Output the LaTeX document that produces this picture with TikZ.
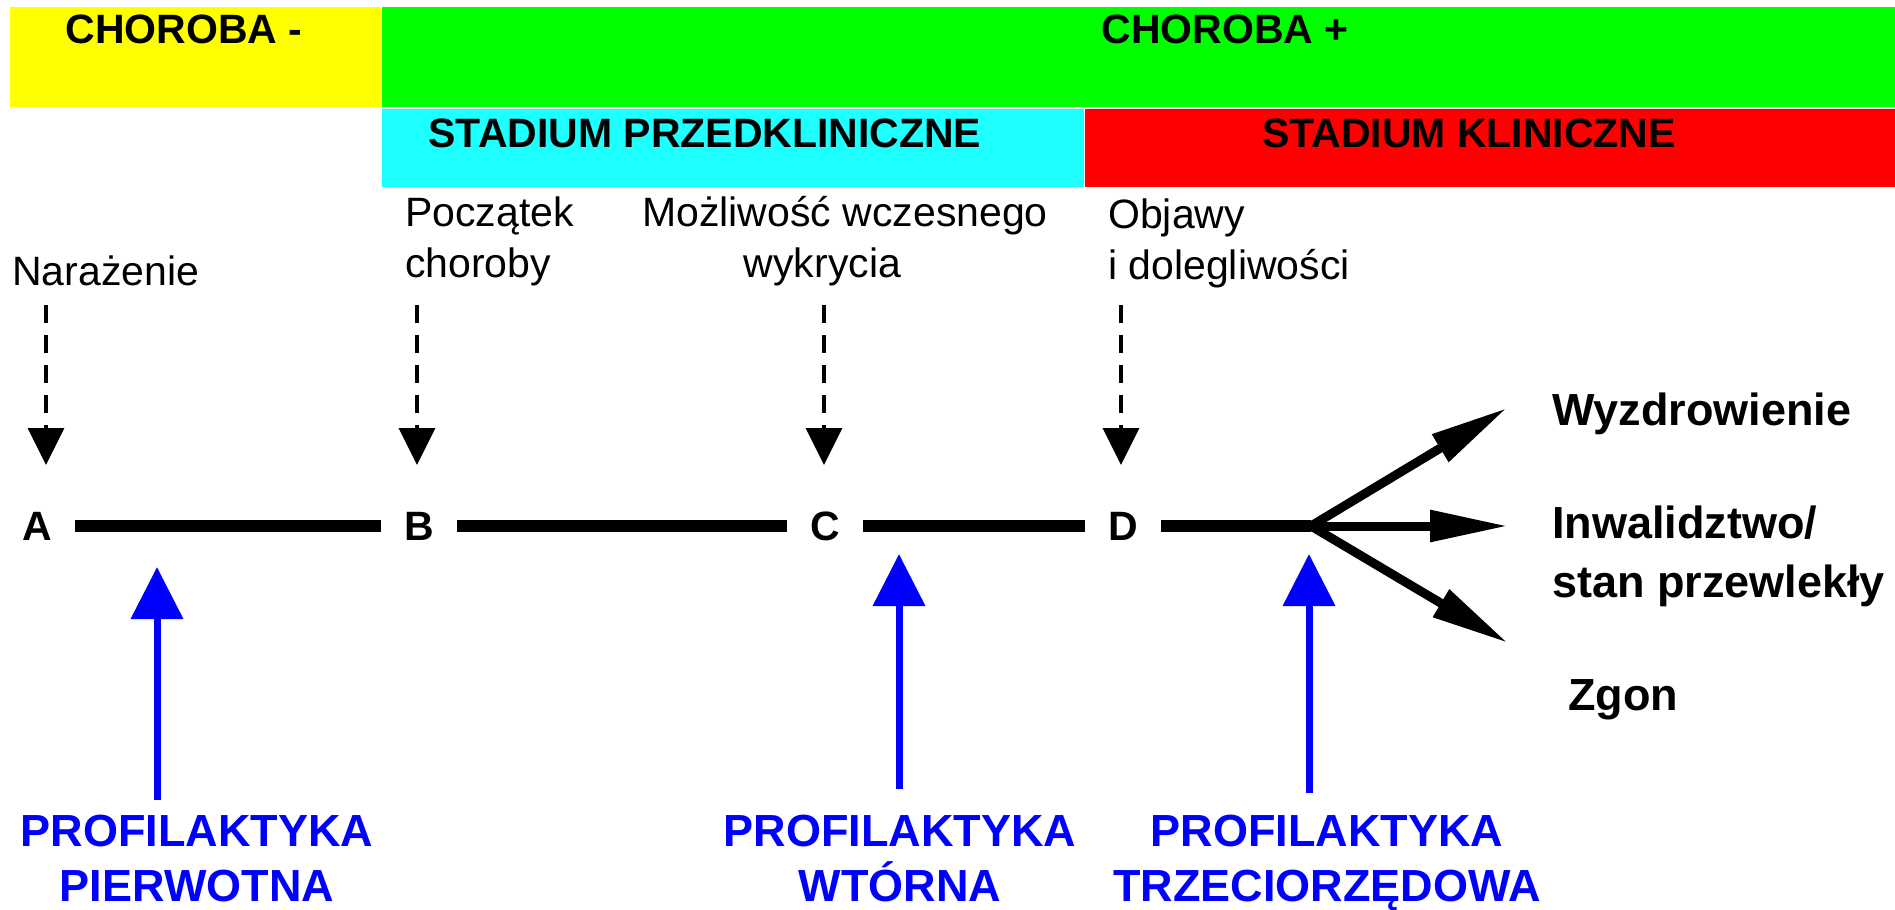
\documentclass[tikz,border=0pt]{standalone}
\usepackage{fontspec}
\setmainfont{Liberation Sans}
\usetikzlibrary{arrows.meta}
\definecolor{boxyellow}{RGB}{255,255,0}
\definecolor{boxgreen}{RGB}{0,255,0}
\definecolor{boxcyan}{RGB}{30,255,255}
\definecolor{boxred}{RGB}{255,0,0}
\definecolor{profblue}{RGB}{0,0,255}
\tikzset{
  hdr/.style={font=\fontsize{41}{41}\selectfont\bfseries, inner sep=0pt, anchor=base},
  lbl/.style={font=\fontsize{41}{51}\selectfont, inner sep=0pt},
  letter/.style={font=\fontsize{41}{41}\selectfont\bfseries, inner xsep=23pt, inner ysep=0pt},
  outcome/.style={font=\fontsize{45}{59}\selectfont\bfseries, inner sep=0pt, align=left},
  prof/.style={font=\fontsize{45}{55}\selectfont\bfseries, text=profblue, inner sep=0pt, align=center, anchor=north},
  mainline/.style={line width=12pt},
  branch/.style={line width=9pt, -{Triangle[length=78pt,width=30pt]}},
  dasharrow/.style={line width=3.5pt, dash pattern=on 18pt off 12pt, -{Triangle[length=37pt,width=36pt]}},
  bluearrow/.style={line width=7pt, draw=profblue, -{Triangle[length=52pt,width=51pt]}}
}
\begin{document}
\begin{tikzpicture}[x=1pt,y=-1pt]
\useasboundingbox (0,0) rectangle (1895,910);
% header bands
\fill[boxyellow] (10,7) rectangle (381,107);
\fill[boxgreen] (382,7) rectangle (1895,107);
\fill[boxcyan] (382,109) rectangle (1084,187);
\fill[boxred] (1085,109) rectangle (1895,187);
\node[hdr] (chminus) at (184,43) {CHOROBA -};
\node[hdr] (chplus) at (1225,43) {CHOROBA +};
\node[hdr] (przed) at (705,147) {STADIUM PRZEDKLINICZNE};
\node[hdr] (klin) at (1469,147) {STADIUM KLINICZNE};
% event labels
\node[lbl, anchor=base west] (naraz) at (12,285) {Narażenie};
\node[lbl, anchor=north west, align=left] (poczatek) at (405,197) {Początek\\choroby};
\node[lbl, anchor=north, align=center] (mozliwosc) at (845,196) {Możliwość wczesnego\\wykrycia\hspace*{1.1em}};
\node[lbl, anchor=north west, align=left] (objawy) at (1108,199) {Objawy\\i dolegliwości};
% dashed arrows
\coordinate (dA1) at (46,305);  \coordinate (dA2) at (46,465);
\coordinate (dB1) at (417,305); \coordinate (dB2) at (417,465);
\coordinate (dC1) at (824,305); \coordinate (dC2) at (824,465);
\coordinate (dD1) at (1121,305); \coordinate (dD2) at (1121,465);
\draw[dasharrow] (dA1) -- (dA2);
\draw[dasharrow] (dB1) -- (dB2);
\draw[dasharrow] (dC1) -- (dC2);
\draw[dasharrow] (dD1) -- (dD2);
% timeline
\node[letter] (A) at (37,526) {A};
\node[letter] (B) at (419,526) {B};
\node[letter] (C) at (825,526) {C};
\node[letter] (D) at (1123,526) {D};
\coordinate (fork) at (1311,526);
\draw[mainline] (A) -- (B);
\draw[mainline] (B) -- (C);
\draw[mainline] (C) -- (D);
\draw[mainline] (D) -- (fork);
% outcomes
\coordinate (tipUp) at (1507,408);
\coordinate (tipMid) at (1508,526);
\coordinate (tipDown) at (1508,643);
\draw[branch] (fork) -- (tipUp);
\draw[branch] (fork) -- (tipMid);
\draw[branch] (fork) -- (tipDown);
\node[outcome, anchor=base west] (wyzdr) at (1552,425) {Wyzdrowienie};
\node[outcome, anchor=north west] (inwal) at (1552,506) {Inwalidztwo/\\stan przewlekły};
\node[outcome, anchor=base west] (zgon) at (1568,710) {Zgon};
% prevention
\node[prof] (pierw) at (197,815) {PROFILAKTYKA\\PIERWOTNA};
\node[prof] (wtor) at (900,815) {PROFILAKTYKA\\WTÓRNA};
\node[prof] (trzec) at (1327,815) {PROFILAKTYKA\\TRZECIORZĘDOWA};
\coordinate (b1b) at (157,800);  \coordinate (b1t) at (157,567);
\coordinate (b2b) at (899,789);  \coordinate (b2t) at (899,554);
\coordinate (b3b) at (1309,793); \coordinate (b3t) at (1309,554);
\draw[bluearrow] (b1b) -- (b1t);
\draw[bluearrow] (b2b) -- (b2t);
\draw[bluearrow] (b3b) -- (b3t);
\end{tikzpicture}
\end{document}
